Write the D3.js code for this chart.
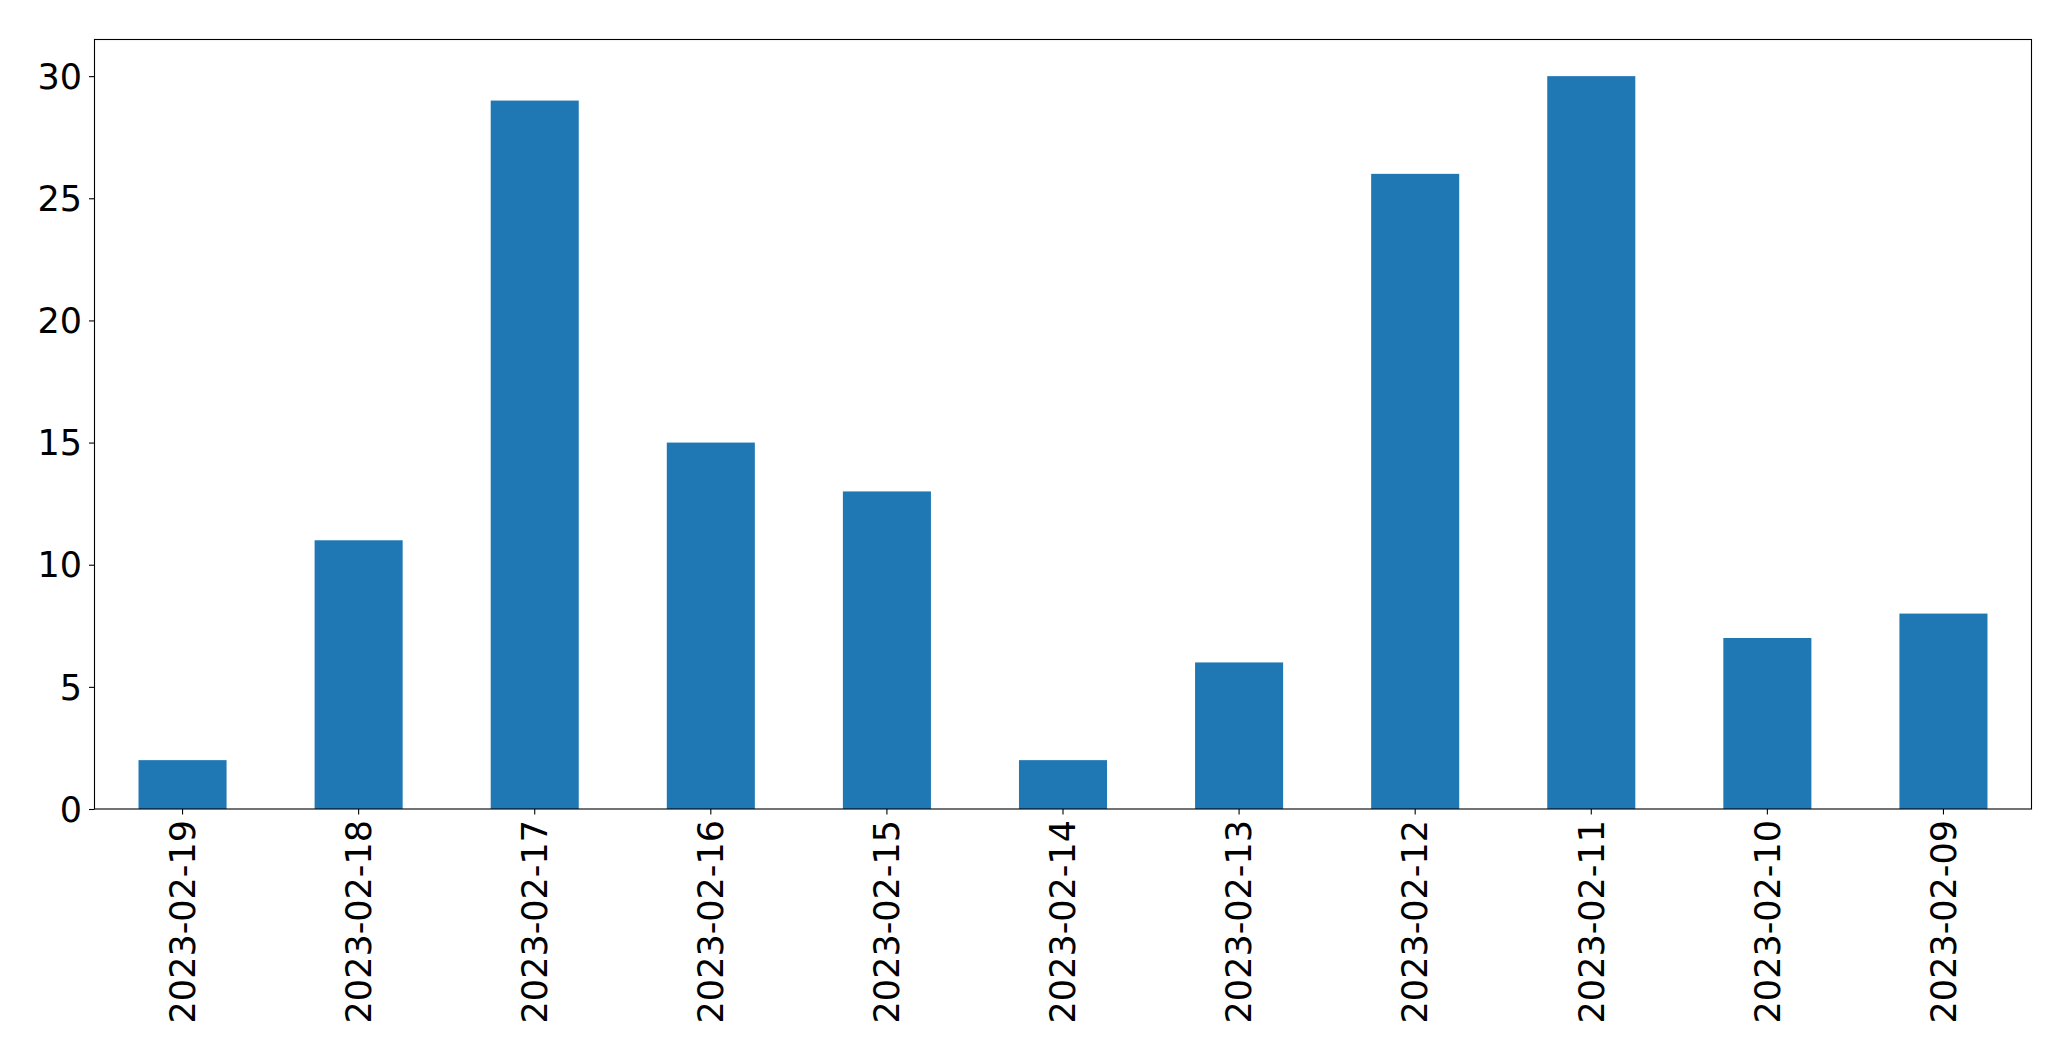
<!DOCTYPE html>
<html><head><meta charset="utf-8">
<script src="https://cdn.jsdelivr.net/npm/d3@7"></script>
<style>html,body{margin:0;padding:0;background:#fff;}svg{display:block;}</style>
</head><body>
<svg id="chart" width="2071" height="1061"></svg>
<script>
const categories = ["2023-02-19","2023-02-18","2023-02-17","2023-02-16","2023-02-15","2023-02-14","2023-02-13","2023-02-12","2023-02-11","2023-02-10","2023-02-09"];
const values = [2, 11, 29, 15, 13, 2, 6, 26, 30, 7, 8];
const yTicks = [0, 5, 10, 15, 20, 25, 30];

const W = 2071, H = 1061;
const m = {left: 94.5, right: 2031.5, top: 39.5, bottom: 809};
const svg = d3.select("#chart");

const x = d3.scaleBand().domain(categories).range([m.left, m.right]).paddingInner(0.5).paddingOuter(0.25);
const y = d3.scaleLinear().domain([0, 31.5]).range([m.bottom, m.top]);

svg.append("g").selectAll("rect").data(values).join("rect")
  .attr("x", (d,i) => x(categories[i]))
  .attr("width", x.bandwidth())
  .attr("y", d => y(d))
  .attr("height", d => y(0) - y(d))
  .attr("fill", "#1f77b4");

const font = "'DejaVu Sans', sans-serif";

const yAxis = svg.append("g").attr("transform", `translate(${m.left},0)`)
  .call(d3.axisLeft(y).tickValues(yTicks).tickSize(5.5).tickPadding(7));
yAxis.select(".domain").remove();
yAxis.selectAll("line").attr("stroke", "#000").attr("stroke-width", 1.1);
yAxis.selectAll("text").attr("font-family", font).attr("font-size", 35).attr("fill", "#000").attr("dy", "0.35em");

const xAxis = svg.append("g").attr("transform", `translate(0,${m.bottom})`)
  .call(d3.axisBottom(x).tickSize(5.5).tickPadding(0));
xAxis.select(".domain").remove();
xAxis.selectAll("line").attr("stroke", "#000").attr("stroke-width", 1.1);
xAxis.selectAll("text")
  .attr("font-family", font).attr("font-size", 35).attr("fill", "#000")
  .attr("text-anchor", "end")
  .attr("transform", "translate(0,11) rotate(-90)")
  .attr("x", 0).attr("y", 0).attr("dy", "0.35em");

svg.append("rect")
  .attr("x", m.left).attr("y", m.top)
  .attr("width", m.right - m.left).attr("height", m.bottom - m.top)
  .attr("fill", "none").attr("stroke", "#000").attr("stroke-width", 1.1);
</script>
</body></html>
